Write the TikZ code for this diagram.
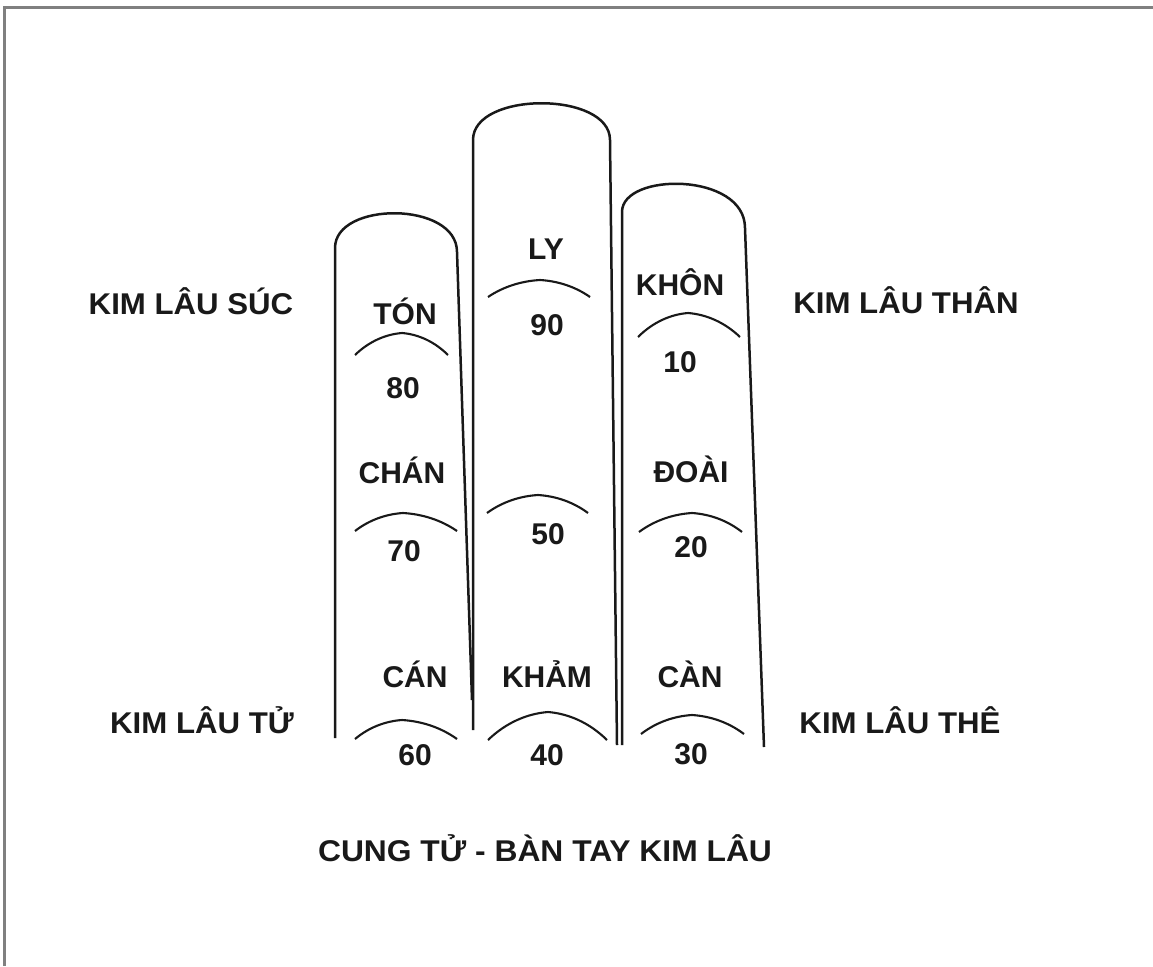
\documentclass[tikz,border=0pt]{standalone}
\usepackage{fontspec}
\newfontfamily\labfont{Liberation Sans}
\newfontfamily\sidefont[FakeStretch=1.04]{Liberation Sans}
\newfontfamily\titlefont[FakeStretch=1.06]{Liberation Sans}
\newcommand{\roofmark}[5]{% #1 left x, #2 peak x, #3 right x, #4 end y, #5 peak y
  \draw[arcline] (#1,#4) .. controls ({#1+0.3*(#2-#1)},{#4+0.62*(#5-#4)}) and ({#2-0.35*(#2-#1)},{#5+0.06*(#4-#5)}) .. (#2,#5)
    .. controls ({#2+0.35*(#3-#2)},{#5+0.06*(#4-#5)}) and ({#3-0.3*(#3-#2)},{#4+0.62*(#5-#4)}) .. (#3,#4);}
\begin{document}
\begin{tikzpicture}[x=1pt,y=-1pt,
  lab/.style={font=\labfont\bfseries\fontsize{30}{36}\selectfont, anchor=base, inner sep=0pt, text=black!90},
  side/.style={lab, font=\sidefont\bfseries\fontsize{30}{36}\selectfont},
  ttl/.style={lab, font=\titlefont\bfseries\fontsize{30}{36}\selectfont},
  finger/.style={draw=black!90, line width=2.5pt, line join=round},
  arcline/.style={draw=black!90, line width=2.1pt},
  frame/.style={draw={rgb,255:red,128;green,128;blue,128}, line width=3pt}]
\useasboundingbox[fill=white] (0,0) rectangle (1153,966);
% frame
\draw[frame] (4.5,966) -- (4.5,7.5) -- (1153,7.5);
% fingers
\draw[finger] (335,738) -- (335,248) .. controls (335,201) and (457,201) .. (457,252) -- (472,700);
\draw[finger] (473,730) -- (473,140) .. controls (473,91) and (610,91) .. (610,140) -- (617,745);
\draw[finger] (622,745) -- (622,212) .. controls (622,172) and (745,172) .. (745,228) -- (764,747);
% roof marks
\roofmark{355}{402}{448}{355}{333}
\roofmark{355}{403}{457}{531}{513}
\roofmark{355}{402}{457}{739}{720}
\roofmark{488}{540}{590}{297}{280}
\roofmark{487}{538}{588}{513}{495}
\roofmark{488}{548}{607}{740}{712}
\roofmark{638}{688}{740}{337}{313}
\roofmark{639}{692}{742}{532}{513}
\roofmark{641}{692}{744}{734}{715}
% labels
\node[side] (suc) at (191,314) {KIM LÂU SÚC};
\node[side] (than) at (906,313) {KIM LÂU THÂN};
\node[side] (tu) at (202,733) {KIM LÂU TỬ};
\node[side] (the) at (900,733) {KIM LÂU THÊ};
\node[ttl] (title) at (545,861) {CUNG TỬ - BÀN TAY KIM LÂU};
\node[lab] (ton) at (405,324) {TÓN};
\node[lab] (n80) at (403,398) {80};
\node[lab] (chan) at (402,483) {CHÁN};
\node[lab] (n70) at (404,561) {70};
\node[lab] (can) at (415,687) {CÁN};
\node[lab] (n60) at (415,765) {60};
\node[lab] (ly) at (546,259) {LY};
\node[lab] (n90) at (547,335) {90};
\node[lab] (n50) at (548,544) {50};
\node[lab] (kham) at (547,687) {KHẢM};
\node[lab] (n40) at (547,765) {40};
\node[lab] (khon) at (680,295) {KHÔN};
\node[lab] (n10) at (680,372) {10};
\node[lab] (doai) at (691,482) {ĐOÀI};
\node[lab] (n20) at (691,557) {20};
\node[lab] (cann) at (690,687) {CÀN};
\node[lab] (n30) at (691,764) {30};
\end{tikzpicture}
\end{document}
